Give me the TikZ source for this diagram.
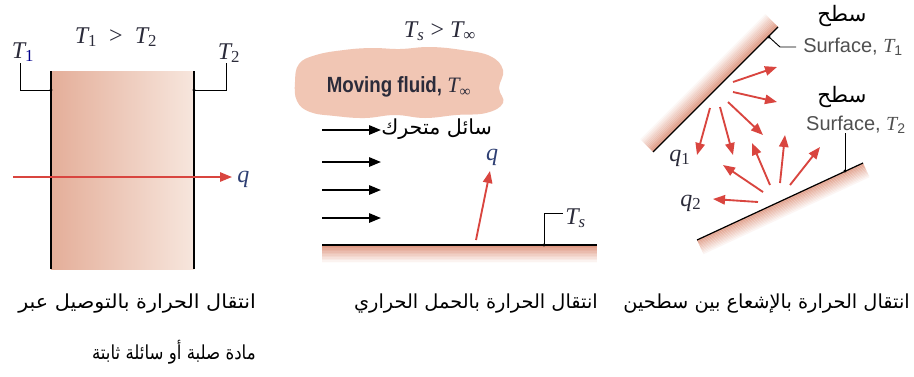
\documentclass[tikz,border=0pt]{standalone}
\usepackage{fontspec}
\usetikzlibrary{arrows.meta}
\TeXXeTstate=1
\setmainfont{Liberation Serif}
\newfontfamily\arabicfont[Script=Arabic]{DejaVu Sans}
\newfontfamily\labsans{Liberation Sans}
\newfontfamily\condfont[FakeStretch=0.85]{Liberation Sans}
\newfontfamily\serifit{Liberation Serif}
\newcommand{\Tv}[1]{{\serifit\itshape T}\textsubscript{#1}}
\definecolor{heatred}{HTML}{D9453F}
\definecolor{inkc}{HTML}{2B2B3A}
\definecolor{slabL}{HTML}{E4AE99}
\definecolor{slabR}{HTML}{F7E6DD}
\definecolor{cloudc}{HTML}{F1C6B4}
\definecolor{bandc}{HTML}{D9866C}
\definecolor{graytxt}{HTML}{505050}
\definecolor{qblue}{HTML}{2E3F73}
\tikzset{
  heatarrow/.style={draw=heatred, line width=1.4pt, -{Triangle[length=9pt,width=7pt]}},
  flowarrow/.style={draw=black, line width=1.5pt, -{Triangle[length=9pt,width=7pt]}},
  leader/.style={draw=black, line width=0.7pt},
  wall/.style={draw=black, line width=0.9pt},
  mathlab/.style={text=inkc, font=\serifit\fontsize{18}{20}\selectfont, inner sep=0pt},
  surflab/.style={text=graytxt, font=\labsans\fontsize{15}{17}\selectfont, inner sep=0pt},
  arab/.style={text=black, font=\arabicfont\fontsize{14.5}{16}\selectfont, inner sep=0pt},
  dotmark/.style={circle, fill=black, inner sep=0pt, minimum size=2.5pt}
}
\begin{document}
\begin{tikzpicture}[x=0.75pt,y=-0.75pt]
\useasboundingbox[fill=white] (0,0) rectangle (914,376);

% ---------------- Panel 1: conduction ----------------
\shade[left color=slabL, right color=slabR] (51,71) rectangle (194,269);
\coordinate (s1t) at (51,71); \coordinate (s1b) at (51,269);
\coordinate (s2t) at (194,71); \coordinate (s2b) at (194,269);
\draw[wall] (s1t) -- (s1b);
\draw[wall] (s2t) -- (s2b);
\node[mathlab] (tcmp) at (116,37) {\Tv{1}\ \ >\ \ \Tv{2}};
\node[mathlab] (tone) at (23,52) {\Tv{\textcolor{blue!55!black}{1}}};
\node[mathlab] (ttwo) at (229,53) {\Tv{2}};
\node[dotmark] (d1) at (51,90) {};
\node[dotmark] (d2) at (194,90) {};
\coordinate (k1) at (20,90); \coordinate (k2) at (226,90);
\coordinate (k1t) at (20,63); \coordinate (k2t) at (226,63);
\draw[leader] (k1t) -- (k1) -- (d1.center);
\draw[leader] (k2t) -- (k2) -- (d2.center);
\coordinate (qa) at (13,177);
\node[mathlab, anchor=west, text=qblue] (q1lab) at (237,179) {\textit{q}};
\draw[heatarrow] (qa) -- (232,177);

% ---------------- Panel 2: convection ----------------
\node[mathlab] (tsinf) at (440,31) {\Tv{\textit{s}} > \Tv{∞}};
\fill[cloudc] plot[smooth cycle, tension=0.7] coordinates {
 (295,82) (299,64) (316,55) (344,50) (372,48) (400,49) (430,47) (462,50)
 (490,56) (503,70) (499,88) (503,103) (486,113) (456,115) (425,118)
 (395,115) (365,118) (335,116) (310,112) (297,101)};
\node[text=inkc, font=\condfont\bfseries\fontsize{16.5}{18}\selectfont, inner sep=0pt]
  (fluid) at (399,87) {Moving fluid, {\fontspec{Liberation Serif}\mdseries\itshape T}\textsubscript{\fontspec{Liberation Serif}\mdseries ∞}};
\foreach \yy/\nm in {130/a, 162/b, 190/c, 218/d}{
  \coordinate (fa\nm) at (322,\yy);
  \coordinate (fb\nm) at (381,\yy);
  \draw[flowarrow] (fa\nm) -- (fb\nm);
}
\node[arab, anchor=west, font=\arabicfont\fontsize{15.5}{17}\selectfont] (movar) at (381,129) {\beginR سائل متحرك\endR};
% surface
\foreach \i in {0,...,11}{
  \pgfmathsetmacro{\pc}{85-\i*7.5}
  \fill[bandc!\pc!white] (322,{245+\i*1.5}) rectangle (597,{245+(\i+1)*1.5});
}
\coordinate (pl) at (322,245); \coordinate (pr) at (597,245);
\draw[wall] (pl) -- (pr);
\node[mathlab, text=qblue] (q2lab) at (492,157) {\textit{q}};
\coordinate (qb) at (476,240);
\draw[heatarrow] (qb) -- (490,171);
\node[dotmark] (d3) at (544,245) {};
\coordinate (k3) at (544,213);
\coordinate (k3e) at (563,213);
\draw[leader] (d3.center) -- (k3) -- (k3e);
\node[mathlab, anchor=west] (tslab) at (565,218) {\Tv{\textit{s}}};

% ---------------- Panel 3: radiation ----------------
\foreach \i in {0,...,13}{
  \pgfmathsetmacro{\pc}{85-\i*6}
  \pgfmathsetmacro{\da}{\i*1.3*0.7071}
  \pgfmathsetmacro{\db}{(\i+1)*1.3*0.7071}
  \fill[bandc!\pc!white] ({653-\da},{152-\da}) -- ({778-\da},{27-\da}) -- ({778-\db},{27-\db}) -- ({653-\db},{152-\db}) -- cycle;
}
\foreach \i in {0,...,11}{
  \pgfmathsetmacro{\pc}{80-\i*6.5}
  \pgfmathsetmacro{\ea}{\i*1.3}
  \pgfmathsetmacro{\eb}{(\i+1)*1.3}
  \fill[bandc!\pc!white] ({697+\ea*0.42},{240+\ea*0.907}) -- ({863+\ea*0.42},{163+\ea*0.907}) -- ({863+\eb*0.42},{163+\eb*0.907}) -- ({697+\eb*0.42},{240+\eb*0.907}) -- cycle;
}
\coordinate (u1) at (653,152); \coordinate (u2) at (778,27);
\coordinate (l1) at (697,240); \coordinate (l2) at (863,163);
\draw[wall] (u1) -- (u2);
\draw[wall] (l1) -- (l2);
\node[dotmark] (d4) at (769,37) {};
\coordinate (k4) at (780,47); \coordinate (k4e) at (796,47);
\draw[leader] (d4.center) -- (k4) -- (k4e);
\node[surflab, anchor=west] (surf1) at (803,47) {Surface, \Tv{1}};
\node[arab, font=\arabicfont\fontsize{16}{18}\selectfont] (sat1) at (842,16) {\beginR سطح\endR};
\node[arab, font=\arabicfont\fontsize{16}{18}\selectfont] (sat2) at (842,97) {\beginR سطح\endR};
\node[surflab] (surf2) at (856,125) {Surface, \Tv{2}};
\node[dotmark] (d5) at (845,171) {};
\coordinate (k5) at (845,133);
\draw[leader] (k5) -- (d5.center);
\node[mathlab] (q1r) at (680,158) {\textit{q}\textsubscript{1}};
\node[mathlab] (q2r) at (691,203) {\textit{q}\textsubscript{2}};
\foreach \ax/\ay/\bx/\by [count=\n] in {733/82/777/67, 733/92/777/102, 728/102/763/135, 710/108/697/155, 720/107/733/155}{
  \coordinate (ra\n) at (\ax,\ay); \coordinate (rb\n) at (\bx,\by);
  \draw[heatarrow] (ra\n) -- (rb\n);
}
\foreach \ax/\ay/\bx/\by [count=\n] in {758/202/713/199, 763/192/723/165, 770/185/752/143, 780/183/785/135, 790/185/820/147}{
  \coordinate (sa\n) at (\ax,\ay); \coordinate (sb\n) at (\bx,\by);
  \draw[heatarrow] (sa\n) -- (sb\n);
}

% ---------------- Captions ----------------
\node[arab, anchor=east] (cap3) at (910,304) {\beginR انتقال الحرارة بالإشعاع بين سطحين\endR};
\node[arab, anchor=east] (cap2) at (598,304) {\beginR انتقال الحرارة بالحمل الحراري\endR};
\node[arab, anchor=east] (cap1a) at (256,304) {\scalebox{1.07}[1]{\beginR انتقال الحرارة بالتوصيل عبر\endR}};
\node[arab, anchor=east] (cap1b) at (256,352) {\scalebox{0.86}[1]{\beginR مادة صلبة أو سائلة ثابتة\endR}};
\end{tikzpicture}
\end{document}
